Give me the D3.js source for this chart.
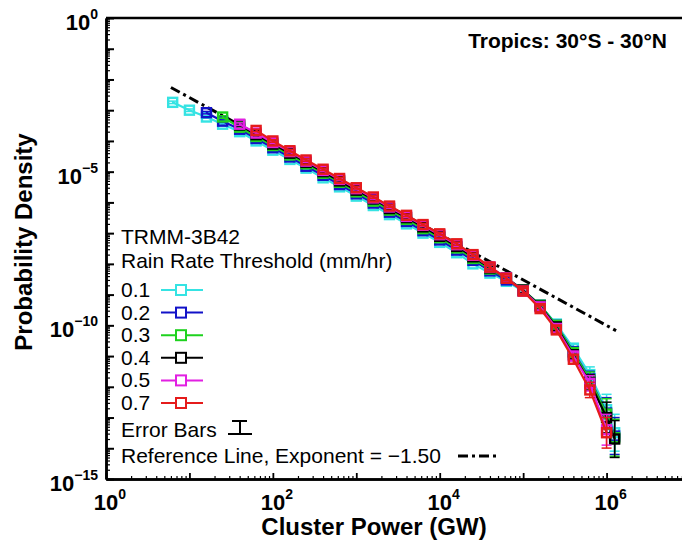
<!DOCTYPE html>
<html>
<head>
<meta charset="utf-8">
<script src="https://cdn.jsdelivr.net/npm/d3@7"></script>
<style>
body { margin: 0; background: #fff; }
</style>
</head>
<body>
<div id="chart"></div>
<script>

// cluster power bins (GW), shared by all thresholds
var clusterPower = [6.3, 10, 16, 25, 40, 63, 100, 160, 250, 400, 630, 1000, 1600, 2500, 4000, 6300,
    1.0e4, 1.6e4, 2.5e4, 4.0e4, 6.3e4, 1.0e5, 1.6e5, 2.5e5, 4.0e5, 6.3e5, 1.0e6, 1.25e6];

// probability density for each rain rate threshold (mm/hr)
var dens01 = [1.8e-3, 1.0e-3, 6.0e-4, 3.5e-4, 2.0e-4, 1.0e-4, 5.0e-5, 2.5e-5, 1.3e-5, 6.3e-6, 3.2e-6, 1.6e-6, 7.9e-7, 4.0e-7,
    2.0e-7, 1.0e-7, 5.0e-8, 2.3e-8, 1.0e-8, 5.0e-9, 2.7e-9, 1.3e-9, 4.5e-10, 1.1e-10, 1.8e-11, 2.5e-12, 1.8e-13, 3.2e-14];
var dens02 = [null, null, 8.3e-4, 4.4e-4, 2.4e-4, 1.2e-4, 6.0e-5, 3.0e-5, 1.5e-5, 7.6e-6, 3.8e-6, 1.9e-6, 9.5e-7, 4.8e-7,
    2.4e-7, 1.2e-7, 6.0e-8, 2.8e-8, 1.3e-8, 5.9e-9, 3.0e-9, 1.4e-9, 4.5e-10, 1.0e-10, 1.4e-11, 1.8e-12, 1.4e-13, 2.5e-14];
var dens03 = [null, null, null, 6.0e-4, 2.8e-4, 1.4e-4, 7.1e-5, 3.5e-5, 1.8e-5, 8.9e-6, 4.5e-6, 2.2e-6, 1.1e-6, 5.6e-7,
    2.8e-7, 1.4e-7, 7.1e-8, 3.3e-8, 1.5e-8, 6.8e-9, 3.4e-9, 1.4e-9, 4.5e-10, 1.0e-10, 1.3e-11, 1.7e-12, 1.3e-13, 2.2e-14];
var dens04 = [null, null, null, null, 3.3e-4, 1.6e-4, 7.9e-5, 4.0e-5, 2.0e-5, 1.0e-5, 5.0e-6, 2.5e-6, 1.3e-6, 6.3e-7,
    3.2e-7, 1.6e-7, 7.9e-8, 3.7e-8, 1.7e-8, 7.4e-9, 3.5e-9, 1.4e-9, 4.2e-10, 8.9e-11, 1.1e-11, 1.4e-12, 1.0e-13, 2.0e-14];
var dens05 = [null, null, null, null, 3.5e-4, 1.8e-4, 8.9e-5, 4.5e-5, 2.2e-5, 1.1e-5, 5.6e-6, 2.8e-6, 1.4e-6, 7.1e-7,
    3.5e-7, 1.8e-7, 8.9e-8, 4.2e-8, 1.9e-8, 7.9e-9, 3.5e-9, 1.3e-9, 4.0e-10, 7.9e-11, 1.0e-11, 1.3e-12, 4.0e-14, null];
var dens07 = [null, null, null, null, null, 2.2e-4, 1.0e-4, 4.8e-5, 2.4e-5, 1.2e-5, 6.0e-6, 3.0e-6, 1.5e-6, 7.6e-7,
    3.8e-7, 1.9e-7, 9.5e-8, 4.5e-8, 2.0e-8, 7.9e-9, 3.4e-9, 1.3e-9, 3.5e-10, 7.1e-11, 7.9e-12, 7.9e-13, 3.2e-14, null];

// error bar half-size in decades, per bin
var errDex = [0.04, 0.04, 0.04, 0.04, 0.04, 0.04, 0.04, 0.04, 0.04, 0.04, 0.04, 0.04, 0.04, 0.04,
    0.04, 0.04, 0.04, 0.05, 0.05, 0.06, 0.07, 0.08, 0.1, 0.12, 0.15, 0.25, 0.5, 0.6];

var thresholds = ["0.1", "0.2", "0.3", "0.4", "0.5", "0.7"];
var colors = ["#35e3e3", "#1212c8", "#1ed21e", "#000000", "#e21fe2", "#e51b1b"];
var allDens = [dens01, dens02, dens03, dens04, dens05, dens07];

// reference line, exponent -1.50
var refPower = [6, 1.3e6];
var refDens = [5.5e-3, 6.7e-11];

var xTickLabels = [{v: 1, e: "0"}, {v: 1e2, e: "2"}, {v: 1e4, e: "4"}, {v: 1e6, e: "6"}];
var yTickLabels = [{v: 1, e: "0"}, {v: 1e-5, e: "\u22125"}, {v: 1e-10, e: "\u221210"}, {v: 1e-15, e: "\u221215"}];

var legendLines = ["TRMM-3B42", "Rain Rate Threshold (mm/hr)"];

var width = 682, height = 541;
var plotLeft = 106, plotRight = 690, plotTop = 18, plotBottom = 479;

var svg = d3.select("#chart").append("svg")
    .attr("width", width)
    .attr("height", height)
    .style("font-family", "'Liberation Sans', Arial, sans-serif");

var x = d3.scaleLog().domain([1, 1e7]).range([plotLeft, plotRight]);
var y = d3.scaleLog().domain([1e-15, 1]).range([plotBottom, plotTop]);

////////
//axes//
////////
var xMajor = [], xMinor = [];
for (var e = 0; e < 7; e++) {
    xMajor.push(Math.pow(10, e));
    for (var m = 2; m < 10; m++) xMinor.push(m * Math.pow(10, e));
}
xMajor.push(1e7);
var yMajor = [], yMinor = [];
for (var e = -15; e < 0; e++) {
    yMajor.push(Math.pow(10, e));
    for (var m = 2; m < 10; m++) yMinor.push(m * Math.pow(10, e));
}
yMajor.push(1);

function styleAxis(g, w) {
    g.select(".domain").attr("stroke-width", 2.5);
    g.selectAll(".tick line").attr("stroke-width", w);
}

svg.append("g")
    .attr("transform", "translate(0," + plotBottom + ")")
    .call(d3.axisBottom(x).tickValues(xMinor).tickSize(-3).tickSizeOuter(0).tickFormat(""))
    .call(styleAxis, 1.2);
svg.append("g")
    .attr("transform", "translate(0," + plotBottom + ")")
    .call(d3.axisBottom(x).tickValues(xMajor).tickSize(-6).tickSizeOuter(0).tickFormat(""))
    .call(styleAxis, 1.8);
svg.append("g")
    .attr("transform", "translate(" + plotLeft + ",0)")
    .call(d3.axisLeft(y).tickValues(yMinor).tickSize(-4).tickSizeOuter(0).tickFormat(""))
    .call(styleAxis, 1.2);
svg.append("g")
    .attr("transform", "translate(" + plotLeft + ",0)")
    .call(d3.axisLeft(y).tickValues(yMajor).tickSize(-8).tickSizeOuter(0).tickFormat(""))
    .call(styleAxis, 2);

// top frame
svg.append("line")
    .attr("x1", plotLeft).attr("x2", plotRight)
    .attr("y1", plotTop).attr("y2", plotTop)
    .attr("stroke", "#000")
    .attr("stroke-width", 2.5);

// tick labels with superscripts
var xl = svg.selectAll(".xlab").data(xTickLabels).enter()
    .append("text")
    .attr("class", "xlab")
    .attr("x", function(d) { return x(d.v) + 4; })
    .attr("y", 510)
    .attr("text-anchor", "middle")
    .style("font-weight", "bold")
    .style("font-size", "22px");
xl.append("tspan").text("10");
xl.append("tspan").attr("dy", -11).style("font-size", "14px").text(function(d) { return d.e; });

var yl = svg.selectAll(".ylab").data(yTickLabels).enter()
    .append("text")
    .attr("class", "ylab")
    .attr("x", 98)
    .attr("y", function(d) { return y(d.v) + 12; })
    .attr("text-anchor", "end")
    .style("font-weight", "bold")
    .style("font-size", "22px");
yl.append("tspan").text("10");
yl.append("tspan").attr("dy", -11).style("font-size", "14px").text(function(d) { return d.e; });

// axis titles
svg.append("text")
    .attr("x", 374)
    .attr("y", 535)
    .attr("text-anchor", "middle")
    .style("font-weight", "bold")
    .style("font-size", "24px")
    .text("Cluster Power (GW)");
svg.append("text")
    .attr("transform", "translate(32,242) rotate(-90)")
    .attr("text-anchor", "middle")
    .style("font-weight", "bold")
    .style("font-size", "24px")
    .text("Probability Density");

svg.append("text")
    .attr("x", 667)
    .attr("y", 48)
    .attr("text-anchor", "end")
    .style("font-weight", "bold")
    .style("font-size", "21px")
    .text("Tropics: 30\u00b0S - 30\u00b0N");

//////////////////
//reference line//
//////////////////
var refData = refPower.map(function(p, i) { return {x: p, p: refDens[i]}; });
var line = d3.line()
    .defined(function(d) { return d.p != null; })
    .x(function(d) { return x(d.x); })
    .y(function(d) { return y(d.p); });

svg.append("path")
    .datum(refData)
    .attr("d", line)
    .attr("fill", "none")
    .attr("stroke", "#000")
    .attr("stroke-width", 3)
    .attr("stroke-dasharray", "10,4,3,4");

/////////////
//data sets//
/////////////
allDens.forEach(function(dens, s) {
    var pts = clusterPower.map(function(c, i) { return {x: c, p: dens[i], err: errDex[i]}; });
    var valid = pts.filter(function(d) { return d.p != null; });
    var g = svg.append("g").attr("class", "series");
    var col = colors[s];

    g.append("path")
        .datum(valid)
        .attr("d", line)
        .attr("fill", "none")
        .attr("stroke", col)
        .attr("stroke-width", 2.2);

    var eb = g.selectAll(".eb").data(valid).enter().append("g").attr("class", "eb");
    eb.append("line")
        .attr("x1", function(d) { return x(d.x); })
        .attr("x2", function(d) { return x(d.x); })
        .attr("y1", function(d) { return y(d.p * Math.pow(10, d.err)); })
        .attr("y2", function(d) { return y(d.p / Math.pow(10, d.err)); })
        .attr("stroke", col).attr("stroke-width", 1.5);
    eb.append("line")
        .attr("x1", function(d) { return x(d.x) - 5; })
        .attr("x2", function(d) { return x(d.x) + 5; })
        .attr("y1", function(d) { return y(d.p * Math.pow(10, d.err)); })
        .attr("y2", function(d) { return y(d.p * Math.pow(10, d.err)); })
        .attr("stroke", col).attr("stroke-width", 1.5);
    eb.append("line")
        .attr("x1", function(d) { return x(d.x) - 5; })
        .attr("x2", function(d) { return x(d.x) + 5; })
        .attr("y1", function(d) { return y(d.p / Math.pow(10, d.err)); })
        .attr("y2", function(d) { return y(d.p / Math.pow(10, d.err)); })
        .attr("stroke", col).attr("stroke-width", 1.5);

    g.selectAll("rect").data(valid).enter()
        .append("rect")
        .attr("x", function(d) { return x(d.x) - 4.5; })
        .attr("y", function(d) { return y(d.p) - 4.5; })
        .attr("width", 9)
        .attr("height", 9)
        .attr("fill", "none")
        .attr("stroke", col)
        .attr("stroke-width", 2.4);
});

//////////
//legend//
//////////
var legend = svg.append("g").style("font-size", "21px");
legend.selectAll(".title").data(legendLines).enter()
    .append("text")
    .attr("x", 121)
    .attr("y", function(d, i) { return 244 + i * 24; })
    .text(function(d) { return d; });

var item = legend.selectAll(".item").data(thresholds).enter()
    .append("g")
    .attr("transform", function(d, i) { return "translate(0," + (297 + i * 22.6) + ")"; });
item.append("text").attr("x", 121).attr("y", 0).text(function(d) { return d; });
item.append("line")
    .attr("x1", 161).attr("x2", 203).attr("y1", -7).attr("y2", -7)
    .attr("stroke", function(d, i) { return colors[i]; })
    .attr("stroke-width", 2);
item.append("rect")
    .attr("x", 176).attr("y", -12).attr("width", 10).attr("height", 10)
    .attr("fill", "#fff")
    .attr("stroke", function(d, i) { return colors[i]; })
    .attr("stroke-width", 2);

legend.append("text").attr("x", 121).attr("y", 437).text("Error Bars");
legend.append("path")
    .attr("d", "M232,421H247M240,421V434M228,434H252")
    .attr("fill", "none").attr("stroke", "#000").attr("stroke-width", 2);

legend.append("text").attr("x", 121).attr("y", 463).text("Reference Line, Exponent = \u22121.50");
legend.append("line")
    .attr("x1", 458).attr("x2", 498).attr("y1", 456).attr("y2", 456)
    .attr("stroke", "#000").attr("stroke-width", 3)
    .attr("stroke-dasharray", "10,4,3,4");

</script>
</body>
</html>
